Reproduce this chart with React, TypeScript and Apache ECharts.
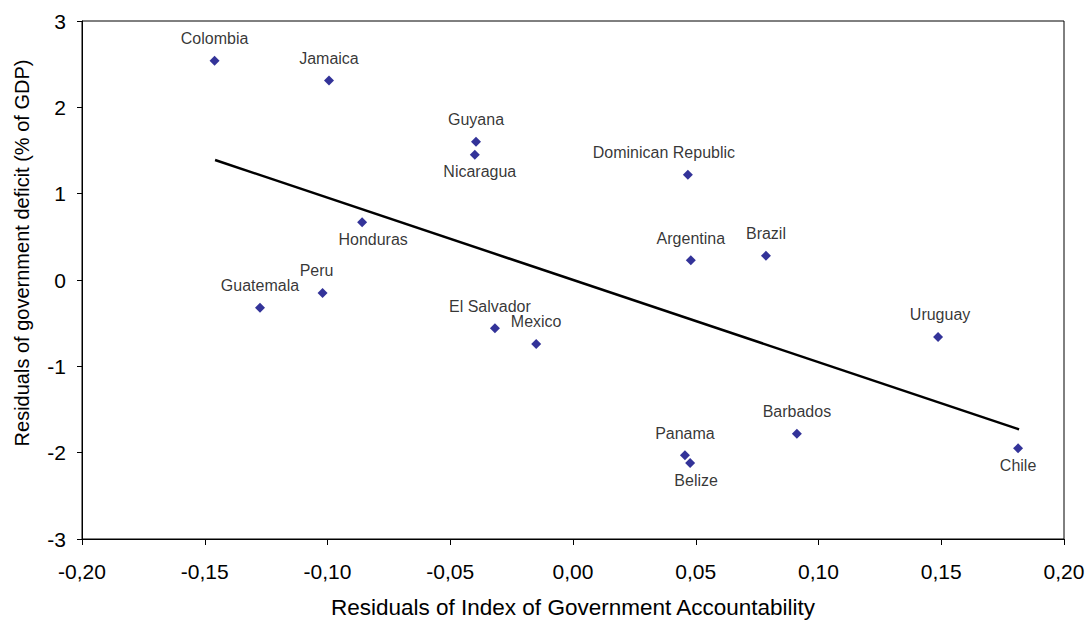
import React, { useEffect, useRef } from "react";
import * as echarts from "echarts";

const countries = [
  "Colombia", "Jamaica", "Guyana", "Nicaragua", "Dominican Republic", "Honduras",
  "Argentina", "Brazil", "Peru", "Guatemala", "El Salvador", "Mexico",
  "Uruguay", "Barbados", "Panama", "Belize", "Chile",
];
const accountabilityResiduals = [
  -0.146, -0.0994, -0.0395, -0.040, 0.0468, -0.0859,
  0.048, 0.0786, -0.102, -0.1275, -0.0318, -0.015,
  0.1487, 0.0912, 0.0456, 0.0477, 0.1813,
];
const deficitResiduals = [
  2.54, 2.31, 1.60, 1.45, 1.22, 0.67,
  0.23, 0.28, -0.15, -0.32, -0.56, -0.74,
  -0.66, -1.78, -2.03, -2.12, -1.95,
];
// label side for each country
const labelSide = [
  "top", "top", "top", "bottom", "top", "bottom",
  "top", "top", "top", "top", "top", "top",
  "top", "top", "top", "bottom", "bottom",
];
const labelShiftX = [0, 0, 0, 5, -24, 11, 0, 0, -6, 0, -5, 0, 2, 0, 0, 6, 0];

const trendX = [-0.1458, 0.1817];
const trendY = [1.39, -1.73];

const xTitle = "Residuals of Index of Government Accountability";
const yTitle = "Residuals of government deficit (% of GDP)";

const FONT = "'Liberation Sans', Arial, sans-serif";

export default function App() {
  const ref = useRef<HTMLDivElement>(null);
  useEffect(() => {
    if (!ref.current) return;
    const chart = echarts.init(ref.current, undefined, { renderer: "svg" });
    const fmt = (v: number) => v.toFixed(2).replace(".", ",");
    chart.setOption({
      animation: false,
      textStyle: { fontFamily: FONT },
      grid: {
        left: 82, right: 26, top: 21, bottom: 85,
        show: true, borderColor: "#000", borderWidth: 1, backgroundColor: "transparent",
      },
      graphic: [
        {
          type: "text",
          x: 22,
          y: 253,
          rotation: Math.PI / 2,
          style: {
            text: yTitle,
            fontSize: 20,
            fontFamily: FONT,
            fill: "#000",
            align: "center",
            verticalAlign: "middle",
          },
        },
      ],
      xAxis: {
        type: "value", min: -0.2, max: 0.2, interval: 0.05,
        name: xTitle,
        nameLocation: "middle", nameGap: 57,
        nameTextStyle: { fontSize: 22.5, color: "#000", fontFamily: FONT },
        axisLine: { onZero: false, lineStyle: { color: "#000", width: 1 } },
        axisTick: { show: true, length: 6, lineStyle: { color: "#000" } },
        axisLabel: { formatter: fmt, fontSize: 21, color: "#000", margin: 22, fontFamily: FONT },
        splitLine: { show: false },
      },
      yAxis: {
        type: "value", min: -3, max: 3, interval: 1,
        axisLine: { show: true, onZero: false, lineStyle: { color: "#000", width: 1 } },
        axisTick: { show: true, length: 5, lineStyle: { color: "#000" } },
        axisLabel: { fontSize: 21, color: "#000", margin: 16, fontFamily: FONT },
        splitLine: { show: false },
      },
      series: [
        {
          type: "line",
          data: trendX.map((x, i) => [x, trendY[i]]),
          symbol: "none",
          lineStyle: { color: "#000", width: 2.5 },
          z: 2,
        },
        {
          type: "scatter",
          symbol: "diamond",
          symbolSize: 10,
          itemStyle: { color: "#000080" },
          data: countries.map((c, i) => ({
            name: c,
            value: [accountabilityResiduals[i], deficitResiduals[i]],
            label: {
              position: labelSide[i],
              distance: labelSide[i] === "top" ? 9 : 4,
              offset: [labelShiftX[i], 0],
            },
          })),
          label: {
            show: true,
            formatter: "{b}",
            fontSize: 16,
            color: "#000",
            fontFamily: FONT,
          },
          z: 3,
        },
      ],
    });
    return () => chart.dispose();
  }, []);
  return <div ref={ref} style={{ width: 1090, height: 624, position: "absolute", left: 0, top: 0 }} />;
}
